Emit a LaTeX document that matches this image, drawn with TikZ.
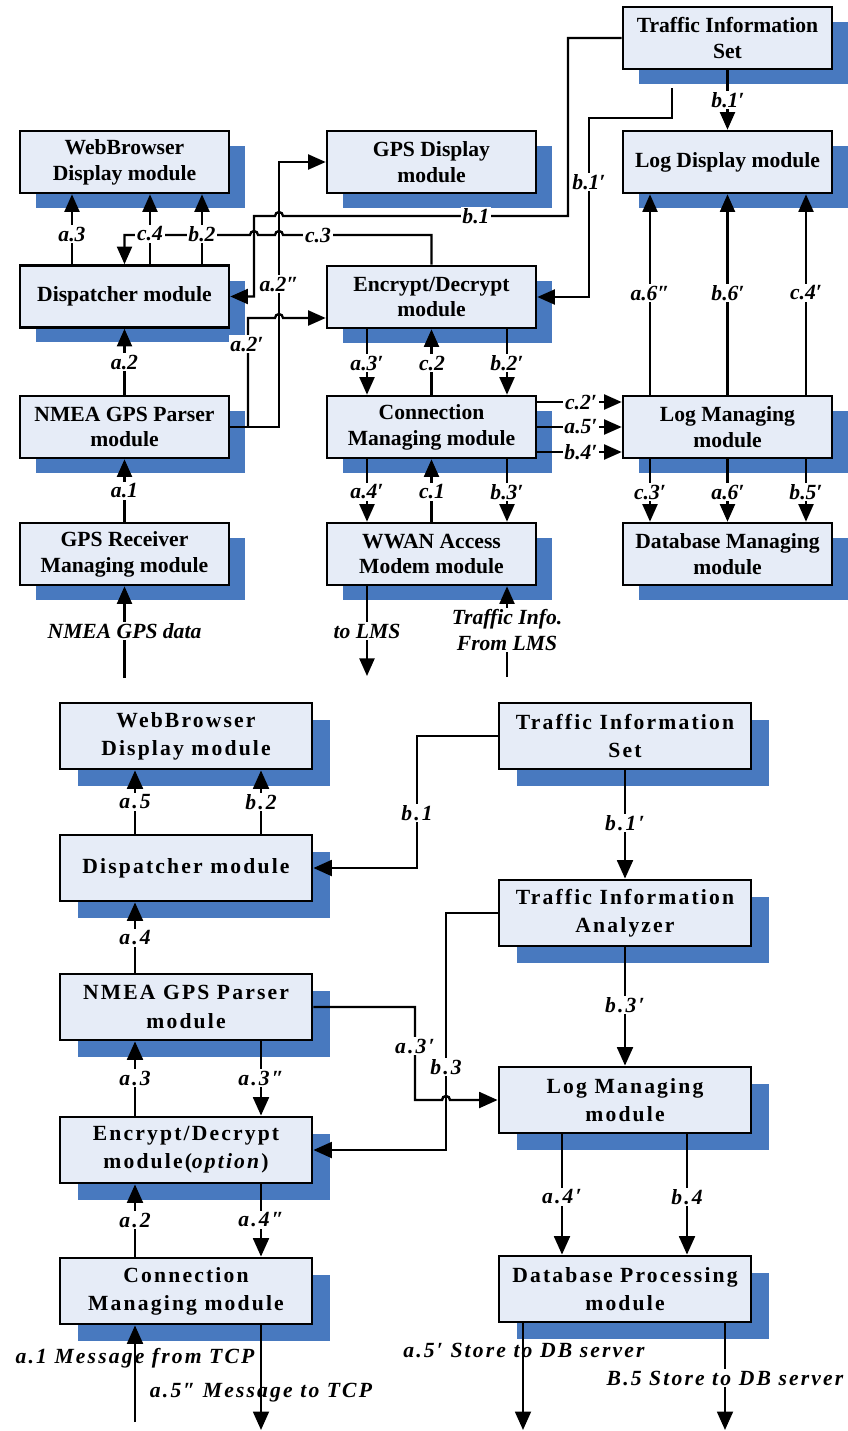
\documentclass[tikz,border=0pt]{standalone}
\usepackage{fontspec}
\setmainfont{Liberation Serif}
\newfontfamily\lsfont[LetterSpace=10]{Liberation Serif}
\usetikzlibrary{arrows.meta,shadows}
\definecolor{boxfill}{RGB}{230,236,247}
\definecolor{shadowblue}{RGB}{72,121,191}
\tikzset{
  tbox/.style={draw, line width=1.5pt, fill=boxfill, minimum width=4.18cm, minimum height=1.24cm,
    align=center, inner sep=0pt, font=\fontsize{12.3}{14.7}\selectfont\bfseries,
    general shadow={fill=shadowblue, shadow xshift=0.32cm, shadow yshift=-0.30cm}},
  bbox/.style={draw, line width=1.6pt, fill=boxfill, minimum width=5.04cm, minimum height=1.32cm,
    align=center, inner sep=0pt, font=\lsfont\fontsize{12.3}{16}\selectfont\bfseries,
    general shadow={fill=shadowblue, shadow xshift=0.36cm, shadow yshift=-0.34cm}},
  tarr/.style={line width=1.3pt, -{Triangle[length=10pt,width=8.5pt]}},
  barr/.style={line width=1.4pt, -{Triangle[length=10.5pt,width=9pt]}},
  tlbl/.style={fill=white, inner sep=1pt, font=\fontsize{12.3}{14.7}\selectfont\bfseries\itshape},
  blbl/.style={fill=white, inner sep=1pt, font=\lsfont\fontsize{12.3}{14.7}\selectfont\bfseries\itshape},
  bfree/.style={inner sep=1pt, font=\lsfont\fontsize{12.3}{14.7}\selectfont\bfseries\itshape},
}
\begin{document}
\begin{tikzpicture}[x=0.02cm,y=-0.02cm]
\useasboundingbox (0,0) rectangle (848,1431);
% ---------- top diagram boxes ----------
\node[tbox] (tweb)  at (124.5,162) {WebBrowser\\Display module};
\node[tbox] (tgpsd) at (431.5,162) {GPS Display\\module};
\node[tbox] (ttis)  at (727.5,38)  {Traffic Information\\Set};
\node[tbox] (tlogd) at (727.5,162) {Log Display module};
\node[tbox] (tdisp) at (124.5,296.5) {Dispatcher module};
\node[tbox] (tenc)  at (431.5,297) {Encrypt/Decrypt\\module};
\node[tbox] (tnmea) at (124.5,427) {NMEA GPS Parser\\module};
\node[tbox] (tconn) at (431.5,427) {Connection\\Managing module};
\node[tbox] (tlogm) at (727.5,427) {Log Managing\\module};
\node[tbox] (tgpsr) at (124.5,554) {GPS Receiver\\Managing module};
\node[tbox] (twwan) at (431.5,554) {WWAN Access\\Modem module};
\node[tbox] (tdbm)  at (727.5,554) {Database Managing\\module};
% ---------- bottom diagram boxes ----------
\node[bbox] (bweb)  at (186,736)  {WebBrowser\\Display module};
\node[bbox] (bdisp) at (186,868)  {Dispatcher module};
\node[bbox] (bnmea) at (186,1007) {NMEA GPS Parser\\module};
\node[bbox] (benc)  at (186,1150) {Encrypt/Decrypt\\module(\textit{option})};
\node[bbox] (bconn) at (186,1291) {Connection\\Managing module};
\node[bbox] (btis)  at (625,736)  {Traffic Information\\Set};
\node[bbox] (btia)  at (625,913)  {Traffic Information\\Analyzer};
\node[bbox] (blogm) at (625,1100) {Log Managing\\module};
\node[bbox] (bdbp)  at (625,1289) {Database Processing\\module};
% ---------- top connectors ----------
\coordinate (nin) at (124.5,678);
\coordinate (lmsout) at (367,676);
\coordinate (lmsin) at (507,677);
\coordinate (b1s) at (672,88);
\draw[tarr] (nin) -- (tgpsr.south);
\draw[tarr] (tgpsr.north) -- (tnmea.south);
\draw[tarr] (tnmea.north) -- (tdisp.south);
\draw[tarr] (tdisp.north -| 72,0) -- (tweb.south -| 72,0);
\draw[tarr] (tdisp.north -| 150,0) -- (tweb.south -| 150,0);
\draw[tarr] (tdisp.north -| 202,0) -- (tweb.south -| 202,0);
\draw[tarr] (tenc.north) -- (431.5,235) -- (283,235) arc[start angle=0,end angle=180,radius=0.08cm]
   -- (258,235) arc[start angle=0,end angle=180,radius=0.08cm] -- (124.5,235) -- (tdisp.north);
\draw[tarr] (ttis.west) -- (568,38) -- (568,216) -- (283,216) arc[start angle=0,end angle=180,radius=0.08cm]
   -- (254,216) -- (tdisp.east -| 254,0) -- (tdisp.east);
\draw[tarr] (tnmea.east) -- (tnmea.east -| 279,0) -- (tgpsd.west -| 279,0) -- (tgpsd.west);
\draw[tarr] (tnmea.east -| 248,0) -- (248,318) -- (275,318) arc[start angle=180,end angle=0,radius=0.08cm]
   -- (tenc.west |- 0,318);
\draw[tarr] (ttis.south) -- (tlogd.north);
\draw[tarr] (b1s) -- (672,118) -- (589,118) -- (tenc.east -| 589,0) -- (tenc.east);
\draw[tarr] (tenc.south -| 367,0) -- (tconn.north -| 367,0);
\draw[tarr] (tconn.north) -- (tenc.south);
\draw[tarr] (tenc.south -| 507,0) -- (tconn.north -| 507,0);
\draw[tarr] (tconn.south -| 367,0) -- (twwan.north -| 367,0);
\draw[tarr] (twwan.north) -- (tconn.south);
\draw[tarr] (tconn.south -| 507,0) -- (twwan.north -| 507,0);
\draw[tarr] (twwan.south -| 367,0) -- (lmsout);
\draw[tarr] (lmsin) -- (twwan.south -| 507,0);
\draw[tarr] (tconn.east |- 0,402) -- (tlogm.west |- 0,402);
\draw[tarr] (tconn.east |- 0,427) -- (tlogm.west |- 0,427);
\draw[tarr] (tconn.east |- 0,452) -- (tlogm.west |- 0,452);
\draw[tarr] (tlogm.north -| 650,0) -- (tlogd.south -| 650,0);
\draw[tarr] (tlogm.north) -- (tlogd.south);
\draw[tarr] (tlogm.north -| 806,0) -- (tlogd.south -| 806,0);
\draw[tarr] (tlogm.south -| 650,0) -- (tdbm.north -| 650,0);
\draw[tarr] (tlogm.south) -- (tdbm.north);
\draw[tarr] (tlogm.south -| 806,0) -- (tdbm.north -| 806,0);
% ---------- top labels ----------
\node[tlbl] (lt1) at (72,234) {a.3};
\node[tlbl] (lt2) at (150,234) {c.4};
\node[tlbl] (lt3) at (202,234) {b.2};
\node[tlbl] (lt4) at (318,235) {c.3};
\node[tlbl] (lt5) at (476,216) {b.1};
\node[tlbl] (lt6) at (279,284) {a.2″};
\node[tlbl] (lt7) at (247,344) {a.2′};
\node[tlbl] (lt8) at (124.5,362) {a.2};
\node[tlbl] (lt9) at (124.5,491) {a.1};
\node[tlbl] (lt10) at (124.5,631) {NMEA GPS data};
\node[tlbl] (lt11) at (367,363) {a.3′};
\node[tlbl] (lt12) at (432,363) {c.2};
\node[tlbl] (lt13) at (507,363) {b.2′};
\node[tlbl] (lt14) at (367,492) {a.4′};
\node[tlbl] (lt15) at (432,492) {c.1};
\node[tlbl] (lt16) at (507,492) {b.3′};
\node[tlbl] (lt17) at (367,631) {to LMS};
\node[tlbl, align=center] (lt18) at (507,630) {Traffic Info.\\From LMS};
\node[tlbl] (lt19) at (581,402) {c.2′};
\node[tlbl] (lt20) at (581,427) {a.5′};
\node[tlbl] (lt21) at (581,452) {b.4′};
\node[tlbl] (lt22) at (728,100) {b.1′};
\node[tlbl] (lt23) at (589,182) {b.1′};
\node[tlbl] (lt24) at (650,293) {a.6″};
\node[tlbl] (lt25) at (728,293) {b.6′};
\node[tlbl] (lt26) at (806,293) {c.4′};
\node[tlbl] (lt27) at (650,492) {c.3′};
\node[tlbl] (lt28) at (728,492) {a.6′};
\node[tlbl] (lt29) at (806,492) {b.5′};
% ---------- bottom connectors ----------
\coordinate (tcpin) at (135,1422);
\coordinate (tcpout) at (261,1430);
\coordinate (dbout1) at (523,1430);
\coordinate (dbout2) at (725,1430);
\draw[barr] (bdisp.north -| 135,0) -- (bweb.south -| 135,0);
\draw[barr] (bdisp.north -| 261,0) -- (bweb.south -| 261,0);
\draw[barr] (btis.west) -- (btis.west -| 417,0) -- (bdisp.east -| 417,0) -- (bdisp.east);
\draw[barr] (btis.south) -- (btia.north);
\draw[barr] (btia.south) -- (blogm.north);
\draw[barr] (btia.west) -- (btia.west -| 446,0) -- (benc.east -| 446,0) -- (benc.east);
\draw[barr] (bnmea.east) -- (bnmea.east -| 415,0) -- (415,1100) -- (442,1100)
   arc[start angle=180,end angle=0,radius=0.08cm] -- (blogm.west);
\draw[barr] (bnmea.north -| 135,0) -- (bdisp.south -| 135,0);
\draw[barr] (benc.north -| 135,0) -- (bnmea.south -| 135,0);
\draw[barr] (bnmea.south -| 261,0) -- (benc.north -| 261,0);
\draw[barr] (bconn.north -| 135,0) -- (benc.south -| 135,0);
\draw[barr] (benc.south -| 261,0) -- (bconn.north -| 261,0);
\draw[barr] (tcpin) -- (bconn.south -| 135,0);
\draw[barr] (bconn.south -| 261,0) -- (tcpout);
\draw[barr] (blogm.south -| 562,0) -- (bdbp.north -| 562,0);
\draw[barr] (blogm.south -| 687,0) -- (bdbp.north -| 687,0);
\draw[barr] (bdbp.south -| 523,0) -- (dbout1);
\draw[barr] (bdbp.south -| 725,0) -- (dbout2);
% ---------- bottom labels ----------
\node[blbl] (lb1) at (135,802) {a.5};
\node[blbl] (lb2) at (261,802) {b.2};
\node[blbl] (lb3) at (417,813) {b.1};
\node[blbl] (lb4) at (625,823) {b.1′};
\node[blbl] (lb5) at (135,938) {a.4};
\node[blbl] (lb6) at (625,1005) {b.3′};
\node[blbl] (lb7) at (415,1046) {a.3′};
\node[blbl] (lb8) at (446,1067) {b.3};
\node[blbl] (lb9) at (135,1078) {a.3};
\node[blbl] (lb10) at (261,1078) {a.3″};
\node[blbl] (lb11) at (135,1220) {a.2};
\node[blbl] (lb12) at (261,1220) {a.4″};
\node[blbl] (lb13) at (562,1197) {a.4′};
\node[blbl] (lb14) at (687,1197) {b.4};
\node[bfree] (lb15) at (135,1358) {a.1 Message from TCP};
\node[bfree] (lb16) at (261,1393) {a.5″ Message to TCP};
\node[bfree] (lb17) at (524,1350) {a.5′ Store to DB server};
\node[blbl] (lb18) at (725,1378) {B.5 Store to DB server};
\end{tikzpicture}
\end{document}
